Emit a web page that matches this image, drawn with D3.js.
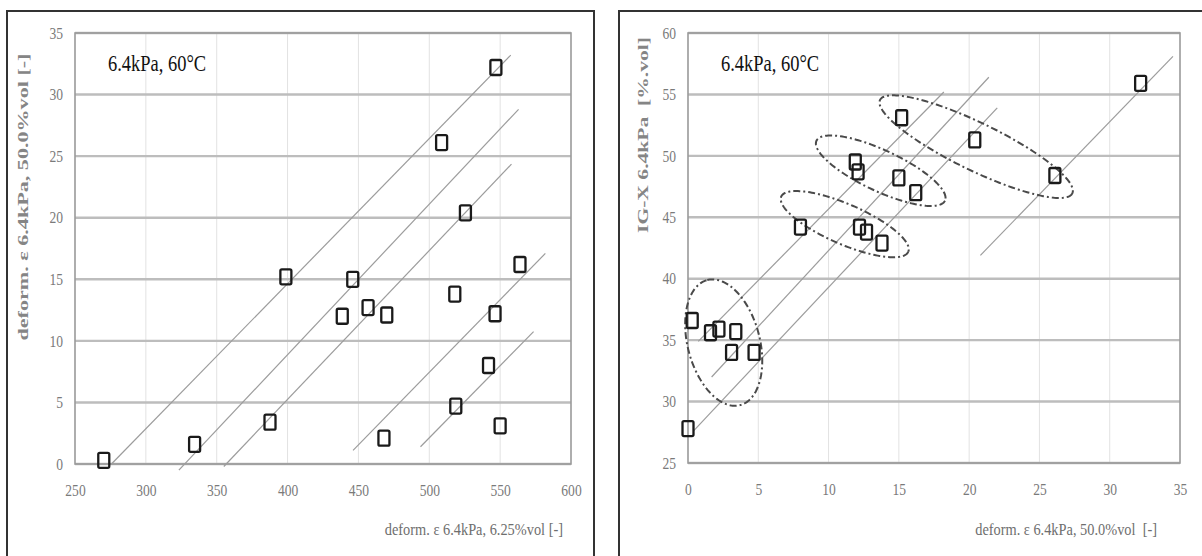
<!DOCTYPE html>
<html>
<head>
<meta charset="utf-8">
<script src="https://cdn.jsdelivr.net/npm/d3@7"></script>
<style>
  html, body { margin: 0; padding: 0; background: #fff; }
  svg { display: block; }
  text { font-family: "Liberation Serif", "DejaVu Serif", serif; }
</style>
</head>
<body>
<svg id="chart" width="1202" height="556"></svg>
<script>
// ---- data ----
// left panel: deformation at 6.25%vol (x) vs deformation at 50.0%vol (y)
const leftX = [270.3, 334.4, 387.6, 398.8, 438.6, 446.0, 456.8, 468.0, 470.0, 508.7, 518.0, 518.7, 525.5, 541.8, 546.4, 547.0, 550.0, 564.0];
const leftY = [0.3, 1.6, 3.4, 15.2, 12.0, 15.0, 12.7, 2.1, 12.1, 26.1, 13.8, 4.7, 20.4, 8.0, 12.2, 32.2, 3.1, 16.2];
// right panel: deformation at 50.0%vol (x) vs IG-X (y)
const rightX = [0.0, 0.3, 1.6, 2.2, 3.1, 3.4, 4.7, 8.0, 11.9, 12.1, 12.2, 12.7, 13.8, 15.0, 15.2, 16.2, 20.4, 26.1, 32.2];
const rightY = [27.8, 36.6, 35.6, 35.9, 34.0, 35.7, 34.0, 44.2, 49.5, 48.7, 44.2, 43.8, 42.9, 48.2, 53.1, 47.0, 51.3, 48.4, 55.9];

// parallel guide lines, [x1, y1, x2, y2] in data units
const leftGuides = [
  [275.7, 0.0, 557.5, 33.2],
  [323.3, -0.5, 563.0, 28.8],
  [355.0, -0.2, 558.0, 24.35],
  [446.2, 1.1, 581.9, 17.1],
  [493.8, 1.4, 573.6, 10.75]
];
const rightGuides = [
  [0.73, 34.9, 18.2, 55.2],
  [1.68, 32.0, 21.4, 56.4],
  [0.38, 27.6, 22.0, 53.9],
  [20.8, 41.9, 34.5, 58.1]
];
// grouping ellipses: centre [x, y] and two conjugate semi-axis vectors, data units
const groupCenters = [[2.54, 34.8], [11.15, 44.44], [13.71, 48.79], [20.5, 50.75]];
const groupAxisU = [[-1.17, 5.09], [4.52, -2.24], [4.57, -2.44], [6.84, -3.80]];
const groupAxisV = [[2.48, 0.75], [-0.56, -1.50], [-0.62, -1.51], [-0.74, -1.74]];

const leftXTicks = [250, 300, 350, 400, 450, 500, 550, 600];
const leftYTicks = [0, 5, 10, 15, 20, 25, 30, 35];
const rightXTicks = [0, 5, 10, 15, 20, 25, 30, 35];
const rightYTicks = [25, 30, 35, 40, 45, 50, 55, 60];

const panelTitle = "6.4kPa, 60°C";
const leftXTitle = "deform. ε 6.4kPa, 6.25%vol [-]";
const leftYTitle = "deform. ε 6.4kPa, 50.0%vol [-]";
const rightXTitle = "deform. ε 6.4kPa, 50.0%vol  [-]";
const rightYTitle = "IG-X 6.4kPa  [%.vol]";

// ---- drawing ----
const svg = d3.select("#chart");
const SQUEEZE = 0.82; // narrow glyph proportions of the figure's typeface

function squeeze(sel, factor) {
  sel.each(function () {
    const len = this.getComputedTextLength();
    d3.select(this).attr("textLength", len * factor).attr("lengthAdjust", "spacingAndGlyphs");
  });
}

function panel(cfg) {
  const g = svg.append("g");
  const x = d3.scaleLinear().domain(cfg.xDomain).range(cfg.xRange);
  const y = d3.scaleLinear().domain(cfg.yDomain).range(cfg.yRange);
  const [x0, x1] = cfg.xRange, [y0, y1] = cfg.yRange;

  // outer frame
  g.append("rect")
    .attr("x", cfg.frame[0]).attr("y", cfg.frame[1])
    .attr("width", cfg.frame[2]).attr("height", cfg.frame[3])
    .attr("fill", "none").attr("stroke", "#333").attr("stroke-width", 2);

  // vertical grid
  g.selectAll(".vg").data(cfg.xTicks.slice(1, -1)).join("line")
    .attr("x1", d => x(d)).attr("x2", d => x(d))
    .attr("y1", y1).attr("y2", y0)
    .attr("stroke", "#e2e2e2").attr("stroke-width", 1);
  // horizontal grid
  g.selectAll(".hg").data(cfg.yTicks).join("line")
    .attr("x1", x0).attr("x2", x1)
    .attr("y1", d => y(d)).attr("y2", d => y(d))
    .attr("stroke", "#bdbdbd").attr("stroke-width", 2.4);
  // plot border
  g.append("rect")
    .attr("x", x0).attr("y", y1).attr("width", x1 - x0).attr("height", y0 - y1)
    .attr("fill", "none").attr("stroke", "#9a9a9a").attr("stroke-width", 1.6);

  // axes (labels only)
  const ax = g.append("g").attr("transform", `translate(0,${y0})`)
    .call(d3.axisBottom(x).tickValues(cfg.xTicks).tickSize(0).tickPadding(20).tickFormat(d3.format("d")));
  const ay = g.append("g").attr("transform", `translate(${x0},0)`)
    .call(d3.axisLeft(y).tickValues(cfg.yTicks).tickSize(0).tickPadding(12).tickFormat(d3.format("d")));
  [ax, ay].forEach(a => {
    a.select(".domain").remove();
    a.selectAll("text")
      .attr("font-family", "Liberation Serif, serif")
      .attr("font-size", 16.5).attr("fill", "#7a7a7a")
      .call(squeeze, SQUEEZE);
  });

  // guide lines
  g.selectAll(".guide").data(cfg.guides).join("line")
    .attr("x1", d => x(d[0])).attr("y1", d => y(d[1]))
    .attr("x2", d => x(d[2])).attr("y2", d => y(d[3]))
    .attr("stroke", "#9c9c9c").attr("stroke-width", 1.2);

  // grouping ellipses
  if (cfg.groups) {
    const ts = d3.range(0, 2 * Math.PI + 0.001, Math.PI / 90);
    const line = d3.line().x(p => x(p[0])).y(p => y(p[1]));
    cfg.groups.forEach((c, i) => {
      const u = groupAxisU[i], v = groupAxisV[i];
      const pts = ts.map(t => [c[0] + u[0] * Math.cos(t) + v[0] * Math.sin(t),
                               c[1] + u[1] * Math.cos(t) + v[1] * Math.sin(t)]);
      g.append("path").attr("d", line(pts))
        .attr("fill", "none").attr("stroke", "#4a4a4a").attr("stroke-width", 2)
        .attr("stroke-dasharray", "7,3,2,3");
    });
  }

  // markers
  const pts = cfg.xs.map((v, i) => [v, cfg.ys[i]]);
  g.selectAll(".pt").data(pts).join("rect")
    .attr("x", d => x(d[0]) - 5.5).attr("y", d => y(d[1]) - 7.5)
    .attr("width", 11).attr("height", 15).attr("rx", 1.5)
    .attr("fill", "none").attr("stroke", "#1a1a1a").attr("stroke-width", 2.3);

  // in-plot title
  g.append("text").attr("x", x0 + 33).attr("y", 71)
    .attr("font-size", 22.5).attr("fill", "#111").text(panelTitle)
    .call(squeeze, SQUEEZE);

  // x-axis title (right aligned)
  g.append("text").attr("x", cfg.xTitleEnd).attr("y", 535)
    .attr("text-anchor", "end").attr("font-size", 17.5).attr("fill", "#6e6e6e")
    .text(cfg.xTitle).attr("xml:space", "preserve")
    .call(squeeze, SQUEEZE);

  // y-axis title (rotated, glyphs narrowed across the baseline)
  g.append("text")
    .attr("transform", `translate(${cfg.yTitlePos[0]},${cfg.yTitlePos[1]}) scale(${SQUEEZE},1) rotate(-90)`)
    .attr("text-anchor", "middle").attr("dominant-baseline", "central")
    .attr("font-size", 17).attr("font-weight", "bold").attr("fill", "#858585")
    .attr("xml:space", "preserve")
    .attr("textLength", cfg.yTitleLen).attr("lengthAdjust", "spacingAndGlyphs")
    .text(cfg.yTitle);
}

panel({
  xDomain: [250, 600], xRange: [75, 571],
  yDomain: [0, 35], yRange: [464, 33],
  frame: [7, 11, 587, 560],
  xTicks: leftXTicks, yTicks: leftYTicks,
  xs: leftX, ys: leftY, guides: leftGuides,
  xTitle: leftXTitle, xTitleEnd: 563,
  yTitle: leftYTitle, yTitlePos: [23, 197], yTitleLen: 287
});

panel({
  xDomain: [0, 35], xRange: [688, 1180],
  yDomain: [25, 60], yRange: [463, 33],
  frame: [619, 11, 600, 560],
  xTicks: rightXTicks, yTicks: rightYTicks,
  xs: rightX, ys: rightY, guides: rightGuides, groups: groupCenters,
  xTitle: rightXTitle, xTitleEnd: 1157,
  yTitle: rightYTitle, yTitlePos: [643, 135], yTitleLen: 196
});
</script>
</body>
</html>
